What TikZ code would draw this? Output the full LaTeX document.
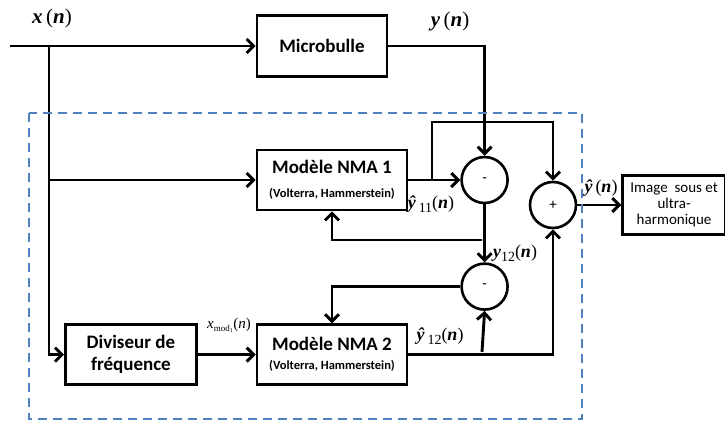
\documentclass[tikz,border=0pt]{standalone}
\usepackage{fontspec}
\setmainfont{Carlito}
\newfontfamily\tnr{Liberation Serif}
\usepackage{tikz}
\usetikzlibrary{arrows.meta,positioning}
\definecolor{FrameBlue}{HTML}{4F81BD}
\newcommand{\bigtxt}{\fontsize{19}{22}\selectfont\bfseries}
\newcommand{\smalltxt}{\fontsize{12.5}{14}\selectfont\bfseries}
% signal names in a Times-like face
\newcommand{\sig}[1]{{\tnr\bfseries\itshape #1}}
\newcommand{\ofn}{{\tnr(}\sig{n}{\tnr)}}

\begin{document}
\begin{tikzpicture}[
  x=1pt,y=-1pt,
  block/.style={draw,line width=2.6pt,align=center,inner sep=2pt,font=\bigtxt},
  model/.style={block,minimum width=150pt,minimum height=60pt},
  sumnode/.style={draw,circle,line width=2.6pt,minimum size=46pt,inner sep=0pt,font=\fontsize{15}{16}\selectfont},
  arr/.style={line width=2.9pt,-{Straight Barb[length=7pt,width=14pt]}},
  lab/.style={inner sep=1pt}
]
\useasboundingbox (0,0) rectangle (725,424);

% blocks
\node[block,minimum width=130pt,minimum height=61pt] (mb) at (322,46) {Microbulle};
\node[model] (nma1) at (332,180) {Modèle NMA 1\\[2pt]{\smalltxt(Volterra, Hammerstein)}};
\node[model,below=112pt of nma1] (nma2) {Modèle NMA 2\\[-3pt]{\smalltxt(Volterra, Hammerstein)}};
\node[block,minimum width=131pt,minimum height=60pt,left=58pt of nma2] (div) {Diviseur de\\fréquence};
\node[sumnode,right=52pt of nma1] (sub1) {-};
\node[sumnode,below=58pt of sub1] (sub2) {-};
\node[sumnode] (add) at (553,205) {+};
\node[block,minimum width=103pt,minimum height=59pt,inner sep=1pt,font=\fontsize{15}{16}\selectfont,right=44pt of add] (img) {Image~ sous et\\ultra-\\harmonique};

% signal path
\coordinate (in) at (10,46);
\coordinate (j0) at (49,46);
\coordinate (t1) at (432,181);
\coordinate (up) at (432,122);
\coordinate (t2) at (482,240);
\coordinate (t3) at (482,352);

\draw[arr] (in) -- (mb.west);
\draw[arr] (j0) |- (div.west);
\draw[arr] (j0 |- nma1.west) -- (nma1.west);
\draw[arr] (mb.east) -| (sub1.north);
\draw[arr] (nma1.east) -- (sub1.west);
\draw[arr] (t1) -- (up) -| (add.north);
\draw[arr] (sub1.south) -- (sub2.north);
\draw[arr] (t2) -| (nma1.south);
\draw[arr] (sub2.west) -| (nma2.north);
\draw[arr] (div.east) -- (nma2.west);
\draw[arr] (nma2.east) -| (add.south);
\draw[arr] (t3) -- (sub2.south);
\draw[arr] (add.east) -- (img.west);

% labels
\node[lab,font=\fontsize{21}{22}\selectfont] (lx) at (52,18) {\sig{x}\,\ofn};
\node[lab,font=\fontsize{21}{22}\selectfont] (ly) at (450,21) {\sig{y}\,\ofn};
\node[lab,font=\fontsize{18}{20}\selectfont] (ly11) at (431,204) {\sig{ŷ}\,{\tnr\fontsize{14}{15}\selectfont\raisebox{-4pt}{11}}\ofn};
\node[lab,font=\fontsize{18}{20}\selectfont] (ly12) at (515,253) {\sig{y}{\tnr\fontsize{14}{15}\selectfont\raisebox{-4pt}{12}}\ofn};
\node[lab,font=\fontsize{18}{20}\selectfont] (lyh12) at (440,336) {\sig{ŷ}\,{\tnr\fontsize{14}{15}\selectfont\raisebox{-4pt}{12}}\ofn};
\node[lab,font=\fontsize{15}{16}\selectfont] (lxm) at (229,325) {{\tnr\itshape x}{\tnr\fontsize{9}{10}\selectfont\raisebox{-3pt}{mod\textsubscript{1}}}{\tnr(\itshape n\upshape)}};
\node[lab,font=\fontsize{18}{20}\selectfont] (lyh) at (601,188) {\sig{ŷ}\,\ofn};

% dashed frame
\draw[FrameBlue,dash pattern=on 9pt off 6pt,line width=1.6pt] (29,113) rectangle (582,419);
\end{tikzpicture}
\end{document}
